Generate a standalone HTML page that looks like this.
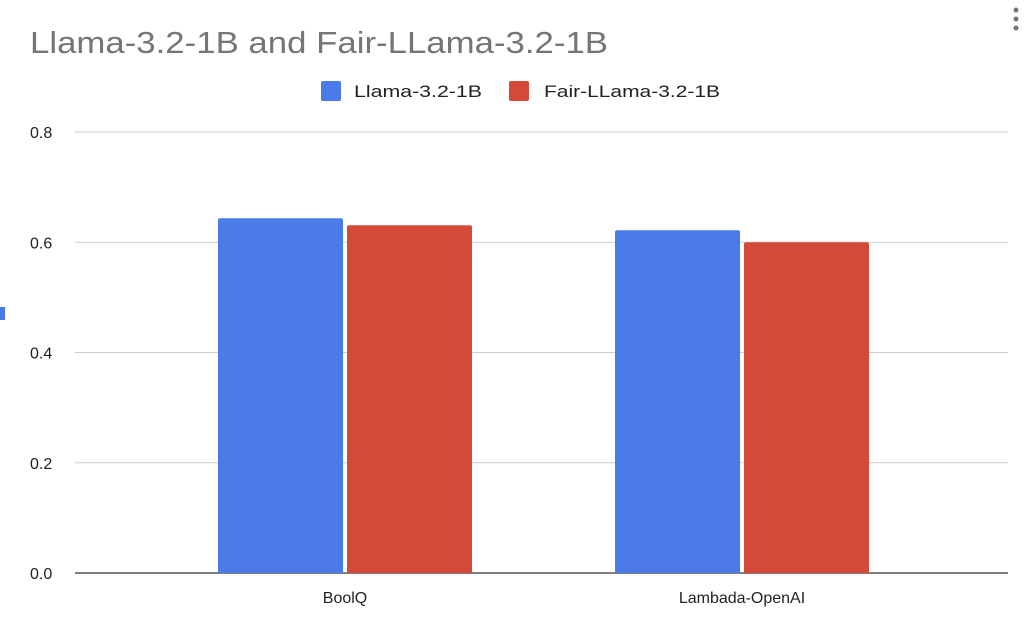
<!DOCTYPE html>
<html><head><meta charset="utf-8"><style>
html,body{margin:0;padding:0;background:#fff;width:1024px;height:623px;overflow:hidden;font-family:"Liberation Sans",Arial,sans-serif;}
</style></head><body>
<svg id="chart" width="1024" height="623" viewBox="0 0 1024 623" xmlns="http://www.w3.org/2000/svg">
<text x="30" y="53" font-size="31" fill="#757575" font-family="Liberation Sans, Arial, sans-serif" textLength="578" lengthAdjust="spacingAndGlyphs">Llama-3.2-1B and Fair-LLama-3.2-1B</text>
<g fill="#757575">
<circle cx="1016" cy="10" r="2.5"/><circle cx="1016" cy="19" r="2.5"/><circle cx="1016" cy="28" r="2.5"/>
</g>
<g>
<g><rect x="321" y="81" width="20" height="20" rx="2" fill="#4a7be8"/><text x="354" y="97" font-size="17" fill="#222" textLength="128" lengthAdjust="spacingAndGlyphs">Llama-3.2-1B</text></g>
<g><rect x="509" y="81" width="20" height="20" rx="2" fill="#d44a38"/><text x="544" y="97" font-size="17" fill="#222" textLength="176" lengthAdjust="spacingAndGlyphs">Fair-LLama-3.2-1B</text></g>
</g>
<rect x="0" y="307" width="5" height="13" fill="#4a7be8"/>
<g id="grid"></g><g id="bars"></g><g id="labels"></g>
</svg>
<script>
const categories = ["BoolQ", "Lambada-OpenAI"];
const llamaValues = [0.6436, 0.6218];
const fairValues = [0.6309, 0.6000];
const yTicks = [0, 0.2, 0.4, 0.6, 0.8];
const yTickLabels = ["0.0", "0.2", "0.4", "0.6", "0.8"];
const NS = "http://www.w3.org/2000/svg";
const plotL = 75, plotR = 1008, y0 = 573, yTop = 132;
const firstCenter = 345, bandStep = 397;
function yScale(v){ return y0 - v / 0.8 * (y0 - yTop); }
function xCenter(i){ return firstCenter + bandStep * i; }
function mk(tag, attrs, parent){ const e = document.createElementNS(NS, tag); for (const k in attrs) e.setAttribute(k, attrs[k]); parent.appendChild(e); return e; }
const grid = document.getElementById('grid'), bars = document.getElementById('bars'), labels = document.getElementById('labels');
yTicks.forEach((t, i) => {
  const y = yScale(t);
  const ln = mk('line', {x1: plotL, x2: plotR, y1: y, y2: y, stroke: i === 0 ? '#333' : '#ccc', 'stroke-width': i === 0 ? 1.3 : 1}, grid);
  
  
  const tx = mk('text', {x: 30, y: y + 6, 'font-size': 16, fill: '#222'}, labels);
  tx.textContent = yTickLabels[i];
  
  
});
const bw = 125, gap = 4;
categories.forEach((c, i) => {
  const cx = xCenter(i);
  const series = [[llamaValues[i], '#4a7be8', cx - gap / 2 - bw], [fairValues[i], '#d44a38', cx + gap / 2]];
  series.forEach((s, j) => {
    const top = yScale(s[0]);
    const r = mk('path', {d: `M${s[2]},${y0} V${top + 2} Q${s[2]},${top} ${s[2] + 2},${top} H${s[2] + bw - 2} Q${s[2] + bw},${top} ${s[2] + bw},${top + 2} V${y0} Z`, fill: s[1]}, bars);
    
    
  });
  const t = mk('text', {x: cx, y: 603, 'font-size': 16, fill: '#222', 'text-anchor': 'middle'}, labels);
  t.textContent = c;
  
  
});
</script>
</body></html>
